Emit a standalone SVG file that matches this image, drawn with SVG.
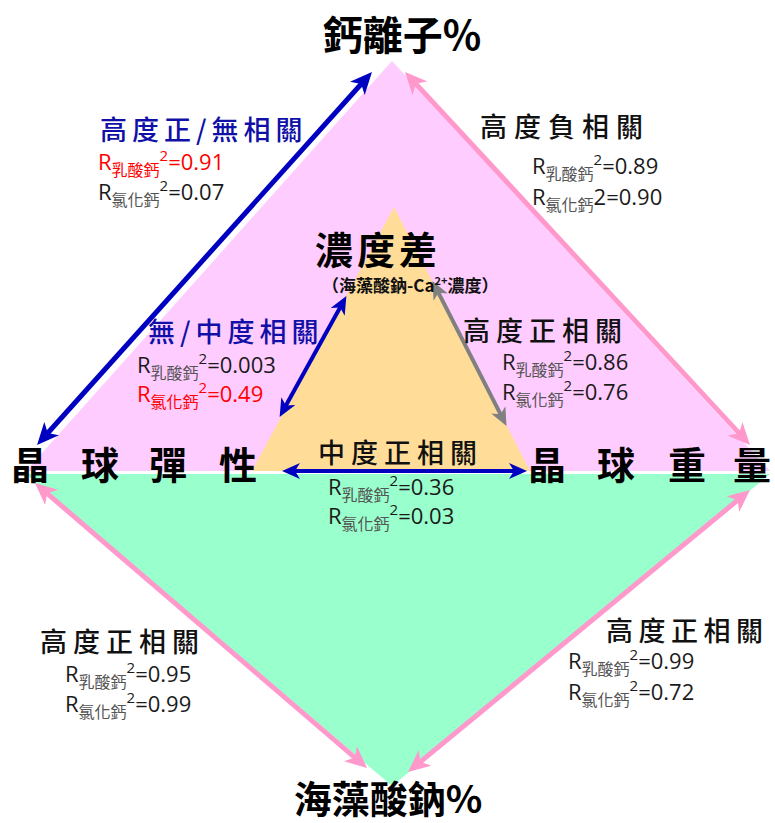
<svg xmlns="http://www.w3.org/2000/svg" width="775" height="823" viewBox="0 0 775 823">
<style>
.h{font-family:"Noto Sans CJK TC","Noto Sans CJK SC",sans-serif;}
.big{font-size:38px;font-weight:700;fill:#000;}
.hd{font-size:27px;letter-spacing:5px;fill:#111;font-weight:500;}
.blue{fill:#1010a8;}
.r{font-family:"Open Sans","Noto Sans CJK TC",sans-serif;font-size:22px;fill:#1a1a1a;}
.r .s{font-family:"Noto Sans CJK TC",sans-serif;font-size:16px;fill:#555;}
.r .p{font-size:15px;}
.red{fill:#ff0000;}
.red .s{fill:#ff0000;}
.conn line{fill:none;}
</style>
<defs>
<marker id="pk" viewBox="0 0 22 20" markerWidth="22" markerHeight="20" refX="14" refY="10" markerUnits="userSpaceOnUse" orient="auto-start-reverse"><path d="M0,0 L22,10 L0,20 L6,10 z" fill="#ff99cc"/></marker>
<marker id="bl" viewBox="0 0 22 20" markerWidth="22" markerHeight="20" refX="14" refY="10" markerUnits="userSpaceOnUse" orient="auto-start-reverse"><path d="M0,0 L22,10 L0,20 L6,10 z" fill="#0000c0"/></marker>
<marker id="bs" viewBox="0 0 18 16" markerWidth="18" markerHeight="16" refX="11" refY="8" markerUnits="userSpaceOnUse" orient="auto-start-reverse"><path d="M0,0 L18,8 L0,16 L5,8 z" fill="#0000c0"/></marker>
<marker id="gs" viewBox="0 0 18 16" markerWidth="18" markerHeight="16" refX="11" refY="8" markerUnits="userSpaceOnUse" orient="auto-start-reverse"><path d="M0,0 L18,8 L0,16 L5,8 z" fill="#808080"/></marker>
</defs>
<rect width="775" height="823" fill="#fff"/>
<g id="regions">
<polygon id="upper" points="392,61 26,471 770,471" fill="#ffccff"/>
<polygon id="lower" points="26,474 770,474 392,786" fill="#99ffcc"/>
<polygon id="inner" points="394,207 252,471 530,471" fill="#ffdd99"/>
</g>
<g id="connectors" class="conn">
<line x1="42.4" y1="439" x2="366.6" y2="78" stroke="#0000c0" stroke-width="5" marker-start="url(#bl)" marker-end="url(#bl)"/>
<line x1="410.4" y1="77.9" x2="744.6" y2="439.1" stroke="#ff99cc" stroke-width="5" marker-start="url(#pk)" marker-end="url(#pk)"/>
<line x1="41" y1="488.2" x2="361" y2="762.8" stroke="#ff99cc" stroke-width="5" marker-start="url(#pk)" marker-end="url(#pk)"/>
<line x1="743.8" y1="495.1" x2="414.2" y2="766.9" stroke="#ff99cc" stroke-width="5" marker-start="url(#pk)" marker-end="url(#pk)"/>
<line x1="343" y1="302.2" x2="283" y2="410.8" stroke="#0000c0" stroke-width="4" marker-start="url(#bs)" marker-end="url(#bs)"/>
<line x1="435.7" y1="287.3" x2="503.3" y2="419.7" stroke="#808080" stroke-width="4" marker-start="url(#gs)" marker-end="url(#gs)"/>
<line x1="289" y1="471" x2="520" y2="471" stroke="#0000c0" stroke-width="4" marker-start="url(#bs)" marker-end="url(#bs)"/>
</g>
<g id="node-calcium">
<text class="h big" x="402" y="50" text-anchor="middle" style="font-size:40px">鈣離子%</text>
</g>
<g id="node-alginate">
<text class="h big" x="388" y="813" text-anchor="middle" style="font-size:38px">海藻酸鈉%</text>
</g>
<g id="node-elasticity">
<text class="h big" x="11 81 149 219" y="479">晶球彈性</text>
</g>
<g id="node-weight">
<text class="h big" x="528 597 668 733" y="479">晶球重量</text>
</g>
<g id="node-diff">
<text class="h big" x="315" y="264" style="letter-spacing:4px">濃度差</text>
<text class="h" x="322" y="292" font-size="17" font-weight="700" fill="#111">（海藻酸鈉-Ca<tspan font-size="11" dy="-7">2+</tspan><tspan dy="7">濃度）</tspan></text>
</g>
<g id="label-top-left">
<text class="h hd blue" x="100" y="140">高度正/無相關</text>
<text class="r red" x="98" y="170">R<tspan class="s" dy="6">乳酸鈣</tspan><tspan class="p" dy="-15">2</tspan><tspan dy="9">=0.91</tspan></text>
<text class="r" x="98" y="200">R<tspan class="s" dy="6">氯化鈣</tspan><tspan class="p" dy="-15">2</tspan><tspan dy="9">=0.07</tspan></text>
</g>
<g id="label-top-right">
<text class="h hd" x="480" y="137" style="letter-spacing:7px">高度負相關</text>
<text class="r" x="532" y="174">R<tspan class="s" dy="6">乳酸鈣</tspan><tspan class="p" dy="-15">2</tspan><tspan dy="9">=0.89</tspan></text>
<text class="r" x="532" y="205">R<tspan class="s" dy="6">氯化鈣</tspan><tspan dy="-6">2=0.90</tspan></text>
</g>
<g id="label-mid-left">
<text class="h hd blue" x="148" y="342">無/中度相關</text>
<text class="r" x="137" y="373">R<tspan class="s" dy="6">乳酸鈣</tspan><tspan class="p" dy="-15">2</tspan><tspan dy="9">=0.003</tspan></text>
<text class="r red" x="137" y="402">R<tspan class="s" dy="6">氯化鈣</tspan><tspan class="p" dy="-15">2</tspan><tspan dy="9">=0.49</tspan></text>
</g>
<g id="label-mid-right">
<text class="h hd" x="463" y="341" style="letter-spacing:6px">高度正相關</text>
<text class="r" x="502" y="370">R<tspan class="s" dy="6">乳酸鈣</tspan><tspan class="p" dy="-15">2</tspan><tspan dy="9">=0.86</tspan></text>
<text class="r" x="502" y="400">R<tspan class="s" dy="6">氯化鈣</tspan><tspan class="p" dy="-15">2</tspan><tspan dy="9">=0.76</tspan></text>
</g>
<g id="label-center">
<text class="h hd" x="318" y="463" style="letter-spacing:6px">中度正相關</text>
<text class="r" x="328" y="495">R<tspan class="s" dy="6">乳酸鈣</tspan><tspan class="p" dy="-15">2</tspan><tspan dy="9">=0.36</tspan></text>
<text class="r" x="328" y="524">R<tspan class="s" dy="6">氯化鈣</tspan><tspan class="p" dy="-15">2</tspan><tspan dy="9">=0.03</tspan></text>
</g>
<g id="label-bottom-left">
<text class="h hd" x="40" y="652" style="letter-spacing:6px">高度正相關</text>
<text class="r" x="65" y="682">R<tspan class="s" dy="6">乳酸鈣</tspan><tspan class="p" dy="-15">2</tspan><tspan dy="9">=0.95</tspan></text>
<text class="r" x="65" y="712">R<tspan class="s" dy="6">氯化鈣</tspan><tspan class="p" dy="-15">2</tspan><tspan dy="9">=0.99</tspan></text>
</g>
<g id="label-bottom-right">
<text class="h hd" x="606" y="641" style="letter-spacing:5.5px">高度正相關</text>
<text class="r" x="568" y="669">R<tspan class="s" dy="6">乳酸鈣</tspan><tspan class="p" dy="-15">2</tspan><tspan dy="9">=0.99</tspan></text>
<text class="r" x="568" y="700">R<tspan class="s" dy="6">氯化鈣</tspan><tspan class="p" dy="-15">2</tspan><tspan dy="9">=0.72</tspan></text>
</g>
</svg>
